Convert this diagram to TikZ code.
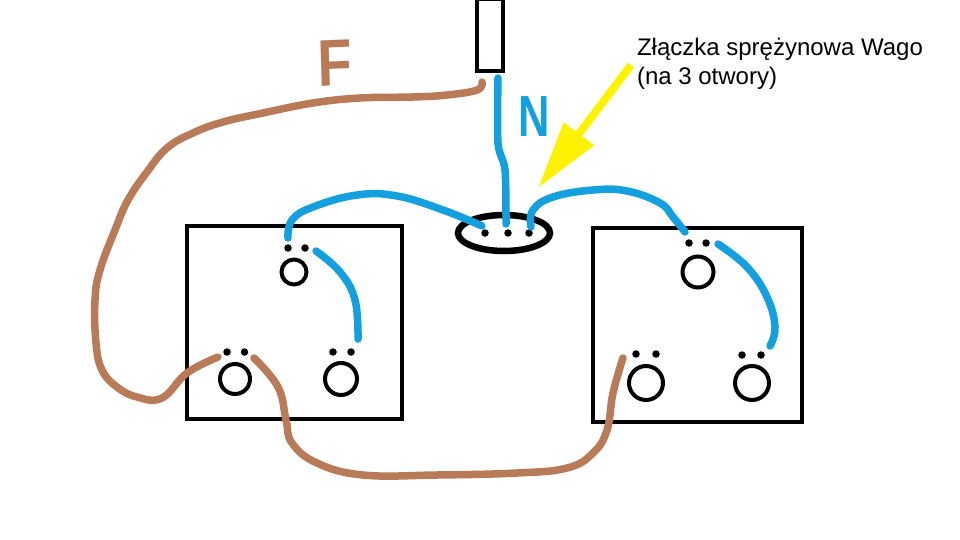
\documentclass[tikz,border=0pt]{standalone}
\usepackage{fontspec}
\setmainfont{Liberation Sans}
\usetikzlibrary{arrows.meta, positioning, shapes.geometric}
\definecolor{wirebrown}{HTML}{B97A57}
\definecolor{wireblue}{HTML}{14A0DE}
\tikzset{
    every node/.style={inner sep=0pt, outer sep=0pt},  % Keep node sizes exact
    socketbox/.style={draw=black, line width=4pt, minimum width=#1},
    ring/.style={circle, draw=black, line width=4pt, minimum size=#1},
    pin/.style={circle, fill=black, minimum size=7.5pt},
    brownwire/.style={draw=wirebrown, line width=7.5pt, line cap=round, line join=round},
    bluewire/.style={draw=wireblue, line width=7.5pt, line cap=round, line join=round},
    letter/.style={font=\bfseries\fontsize{#1}{#1}\selectfont}
}

\begin{document}
\begin{tikzpicture}[x=1pt, y=-1pt]
            \useasboundingbox (0,0) rectangle (960,540);

            % Define boxes
            \node [socketbox=215pt, minimum height=193pt] (boxL) at (294.5,322.5) {};
            \node [socketbox=209pt, minimum height=194pt] (boxR) at (697.5,325) {};
            \node [socketbox=26pt, minimum height=72pt] (feed) at (490,35) {};
            \node [ellipse, draw=black, line width=6.5pt, minimum width=92pt, minimum height=36pt] (wago) at (504,233) {};

            % Define rings
            \node [ring=25pt] (ringLa) at (294,272) {};
            \node [ring=30pt] (ringLb) at (235,379) {};
            \node [ring=32pt] (ringLc) at (341,379) {};
            \node [ring=31pt] (ringRa) at (698,272) {};
            \node [ring=34pt] (ringRb) at (646,383) {};
            \node [ring=34pt] (ringRc) at (752,383) {};

            % Define pins
            \node [pin] (pinLa) at (288,248) {};
            \node [pin, right = 9.5pt of pinLa] (pinLb) {};
            \node [pin] (pinLc) at (227,352) {};
            \node [pin, right = 10pt of pinLc] (pinLd) {};
            \node [pin] (pinLe) at (333,352) {};
            \node [pin, right = 10.5pt of pinLe] (pinLf) {};
            \node [pin] (pinRa) at (689,243) {};
            \node [pin, right = 9.5pt of pinRa] (pinRb) {};
            \node [pin] (pinRc) at (636,354) {};
            \node [pin, right = 12.5pt of pinRc] (pinRd) {};
            \node [pin] (pinRe) at (742,355) {};
            \node [pin, right = 11.5pt of pinRe] (pinRf) {};
            \node [pin] (pinWa) at (485,233) {};
            \node [pin, right = 15.5pt of pinWa] (pinWb) {};
            \node [pin, right = 13.5pt of pinWb] (pinWc) {};

            % Define wire ends
            \coordinate (feedF) at (482,82);
            \coordinate (feedN) at (498,78);
            \coordinate (fLeft) at (218,357);
            \coordinate (fMid) at (254,358);
            \coordinate (fRight) at (623,358);
            \coordinate (nWago) at (506,224);
            \coordinate (lWago) at (482,226);
            \coordinate (lTop) at (288,238);
            \coordinate (rWago) at (531,227);
            \coordinate (rTop) at (685,232);
            \coordinate (lInA) at (316,251);
            \coordinate (lInB) at (358,339);
            \coordinate (rInA) at (718,244);
            \coordinate (rInB) at (770,346);
            \coordinate (wagoTail) at (631,65);
            \coordinate (wagoTip) at (538,188);

            % Draw brown wires
            \draw [brownwire] plot [smooth, tension=0.7] coordinates {(feedF) (477,90) (447,95) (413,97) (360,98) (313,103) (263,113) (223,122) (193,133) (167,148) (147,172) (128,200) (115,230) (100,270) (95,300) (96,343) (102,370) (117,387) (137,397) (162,398) (187,373) (fLeft)};
            \draw [brownwire] plot [smooth, tension=0.7] coordinates {(fMid) (278,387) (286,420) (292,443) (317,463) (363,475) (437,475) (517,473) (567,468) (593,453) (607,430) (613,393) (fRight)};

            % Draw blue wires
            \draw [bluewire] plot [smooth, tension=0.5] coordinates {(feedN) (498,143) (505,170) (nWago)};
            \draw [bluewire] plot [smooth, tension=0.7] coordinates {(lTop) (292,220) (313,207) (357,195) (397,196) (443,210) (lWago)};
            \draw [bluewire] plot [smooth, tension=0.7] coordinates {(rWago) (533,210) (553,197) (593,190) (627,191) (660,203) (673,217) (rTop)};
            \draw [bluewire] plot [smooth, tension=0.7] coordinates {(lInA) (340,272) (355,300) (lInB)};
            \draw [bluewire] plot [smooth, tension=0.7] coordinates {(rInA) (747,267) (767,297) (775,327) (rInB)};

            % Draw arrow and labels
            \draw [yellow, line width=8pt, -{Triangle[length=68pt, width=36pt]}] (wagoTail) -- (wagoTip);
            \node [letter=66, text=wirebrown, xscale=0.85, rotate=2] (labelF) at (335,63) {F};
            \node [letter=58, text=wireblue, xscale=0.75] (labelN) at (534,117) {N};
            \node [anchor=north west, align=left, font=\fontsize{24}{29.5}\selectfont] (labelWago) at (637,38) {Złączka sprężynowa Wago\\(na 3 otwory)};
        \end{tikzpicture}
\end{document}
